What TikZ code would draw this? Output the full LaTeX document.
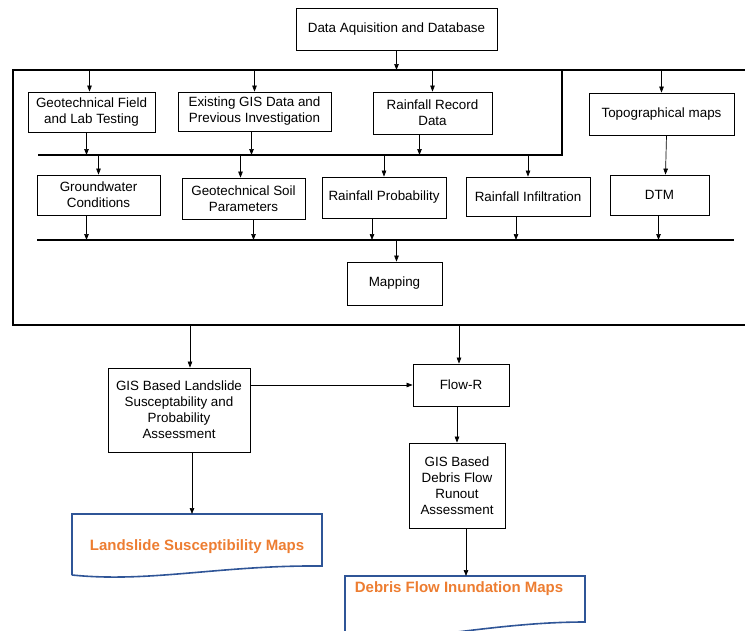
\documentclass[tikz,border=0pt]{standalone}
\usepackage{fontspec}
\setmainfont{Liberation Sans}
\usepackage{xcolor}
\usetikzlibrary{arrows.meta,positioning,calc}
\definecolor{mapblue}{RGB}{47,85,151}
\definecolor{maporange}{RGB}{237,125,49}

\begin{document}
\begin{tikzpicture}[
    x=1pt, y=-1pt,
    box/.style={rectangle, draw=black, line width=0.8pt, align=center, inner sep=2pt, font=\fontsize{13.4}{16}\selectfont},
    bus/.style={line width=2.4pt},
    frame/.style={line width=2pt},
    arrow/.style={-{Triangle[length=6pt,width=4.5pt]}, line width=0.7pt},
    mapbox/.style={draw=mapblue, line width=1.6pt},
    maptext/.style={text=maporange, font=\fontsize{15}{18}\selectfont\bfseries}
]
    \clip (0,0) rectangle (745,630);

    % frame and collecting lines
    \coordinate (ftop) at (0,70);
    \coordinate (fbot) at (0,325);
    \coordinate (bus1) at (0,155);
    \coordinate (bus2) at (0,240);
    \draw [frame] (13,70) rectangle (790,325);
    \draw [bus] (38,155) -- (562,155) -- (562,70);
    \draw [bus] (37,240) -- (734,240);

    \node [box, minimum width=201pt, minimum height=42pt] (data) at (396.5,29) {Data Aquisition and Database};

    % first row
    \node [box, minimum width=127pt, minimum height=40pt] (geofield) at (91.5,112) {Geotechnical Field\\and Lab Testing};
    \node [box, minimum width=153pt, minimum height=39pt] (gisdata) at (254.5,111.5) {Existing GIS Data and\\Previous Investigation};
    \node [box, minimum width=119pt, minimum height=42pt] (rainrec) at (432.5,113) {Rainfall Record\\Data};
    \node [box, minimum width=145pt, minimum height=42pt] (topo) at (661.5,114) {Topographical maps};

    % second row
    \node [box, minimum width=123pt, minimum height=40pt] (ground) at (98.5,195) {Groundwater\\Conditions};
    \node [box, minimum width=123pt, minimum height=41pt] (soil) at (243.5,198.5) {Geotechnical Soil\\Parameters};
    \node [box, minimum width=124pt, minimum height=41pt] (rainprob) at (384,197.5) {Rainfall Probability};
    \node [box, minimum width=124pt, minimum height=39pt] (infil) at (528,196.5) {Rainfall Infiltration};
    \node [box, minimum width=99pt, minimum height=40pt] (dtm) at (659.5,195) {DTM};

    \node [box, minimum width=95pt, minimum height=43pt] (mapping) at (394.5,283.5) {Mapping};

    % outside the frame
    \node [box, minimum width=142pt, minimum height=84pt] (landslide) at (179,410) {GIS Based Landslide\\Susceptability and\\Probability\\Assessment};
    \node [box, minimum width=96pt, minimum height=42pt] (flowr) at (461,385) {Flow-R};
    \node [box, minimum width=96pt, minimum height=85pt] (runout) at (457,485.5) {GIS Based\\Debris Flow\\Runout\\Assessment};

    % map sheets
    \coordinate (lstop) at (192,514);
    \coordinate (dftop) at (466,576);
    \draw [mapbox] (72,575) -- (72,514) -- (322,514) -- (322,566) .. controls (220,565) and (150,583) .. (72,575);
    \node [maptext] (lsmap) at (197,547) {Landslide Susceptibility Maps};
    \draw [mapbox] (345,645) -- (345,576) -- (585,576) -- (585,622) .. controls (510,622) and (440,636) .. (345,645);
    \node [maptext] (dfmap) at (459,589) {Debris Flow Inundation Maps};

    % arrows
    \draw [arrow] (data) -- (data |- ftop);
    \draw [arrow] ([xshift=-2pt]geofield.north |- ftop) -- ([xshift=-2pt]geofield.north);
    \draw [arrow] (gisdata.north |- ftop) -- (gisdata.north);
    \draw [arrow] (rainrec.north |- ftop) -- (rainrec.north);
    \draw [arrow] (topo.north |- ftop) -- (topo.north);

    \draw [arrow] ([xshift=-5pt]geofield.south) -- ([xshift=-5pt]geofield.south |- bus1);
    \draw [arrow] ([xshift=-3pt]gisdata.south) -- ([xshift=-3pt]gisdata.south |- bus1);
    \draw [arrow] ([xshift=-13pt]rainrec.south) -- ([xshift=-13pt]rainrec.south |- bus1);

    \draw [arrow] (ground.north |- bus1) -- (ground.north);
    \draw [arrow] ([xshift=-3pt]soil.north |- bus1) -- ([xshift=-3pt]soil.north);
    \draw [arrow] (rainprob.north |- bus1) -- (rainprob.north);
    \draw [arrow] (infil.north |- bus1) -- (infil.north);
    \draw [arrow] ([xshift=5pt]topo.south) -- ([xshift=6pt]dtm.north);

    \draw [arrow] ([xshift=-12pt]ground.south) -- ([xshift=-12pt]ground.south |- bus2);
    \draw [arrow] ([xshift=10pt]soil.south) -- ([xshift=10pt]soil.south |- bus2);
    \draw [arrow] ([xshift=-12pt]rainprob.south) -- ([xshift=-12pt]rainprob.south |- bus2);
    \draw [arrow] ([xshift=-12pt]infil.south) -- ([xshift=-12pt]infil.south |- bus2);
    \draw [arrow] ([xshift=-1pt]dtm.south) -- ([xshift=-1pt]dtm.south |- bus2);
    \draw [arrow] ([xshift=2pt]mapping.north |- bus2) -- ([xshift=2pt]mapping.north);

    \draw [arrow] ([xshift=11pt]landslide.north |- fbot) -- ([xshift=11pt]landslide.north);
    \draw [arrow] ([xshift=-2pt]flowr.north |- fbot) -- ([xshift=-2pt]flowr.north);
    \draw [arrow] (landslide.east |- flowr.west) -- (flowr.west);
    \draw [arrow] (runout.north |- flowr.south) -- (runout.north);
    \draw [arrow] (lstop |- landslide.south) -- (lstop);
    \draw [arrow] (dftop |- runout.south) -- (dftop);
\end{tikzpicture}
\end{document}
